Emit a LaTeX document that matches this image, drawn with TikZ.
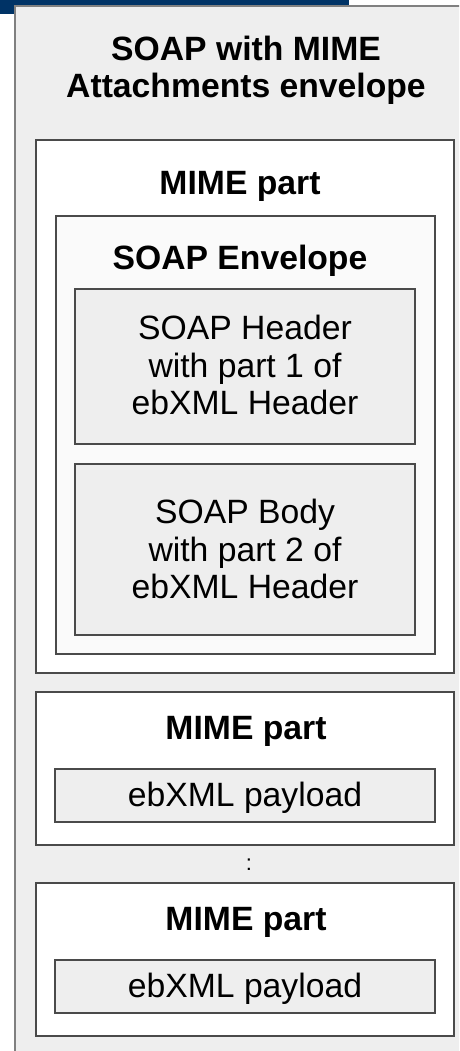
\documentclass[tikz,border=0pt]{standalone}
\usepackage{fontspec}
\setmainfont{Liberation Sans}
\definecolor{barblue}{HTML}{003366}
\definecolor{outerfill}{HTML}{EEEEEE}
\definecolor{envfill}{HTML}{FAFAFA}
\definecolor{partfill}{HTML}{EEEEEE}
\definecolor{edge}{HTML}{4A4A4A}
\begin{document}
\begin{tikzpicture}[x=1pt,y=-1pt,
  box/.style={draw=edge, line width=1.1pt, inner sep=0pt, outer sep=0pt,
              anchor=north west, rectangle},
  % anchor=base puts the baseline of the last line on the given point
  lbl/.style={font=\fontsize{33.7}{37.4}\selectfont, align=center, inner sep=0pt, anchor=base},
  ttl/.style={lbl, font=\fontsize{33.7}{37.4}\selectfont\bfseries}]
\useasboundingbox (0,0) rectangle (459,1051);
\clip (0,0) rectangle (459,1051);

% header bar and outer envelope
\fill[barblue] (0,0) rectangle (349,14);
\node[box, draw=gray, line width=1.3pt, fill=outerfill,
      minimum width=480pt, minimum height=1070pt] (outer) at (15,6) {};
\node[ttl] (outerT) at (246,97.5) {SOAP with MIME\\Attachments envelope};

% first MIME part with SOAP envelope
\node[box, fill=white, minimum width=418pt, minimum height=533pt] (mime1) at (36,140) {};
\node[ttl] (mime1T) at (240,194) {MIME part};
\node[box, fill=envfill, minimum width=379pt, minimum height=438pt] (soapenv) at (56,216) {};
\node[ttl] (soapenvT) at (240,269) {SOAP Envelope};
\node[box, fill=partfill, minimum width=340pt, minimum height=155pt] (hdr) at (75,289) {};
\node[lbl] (hdrT) at (245,414.5) {SOAP Header\\with part 1 of\\ebXML Header};
\node[box, fill=partfill, minimum width=340pt, minimum height=171pt] (body) at (75,464) {};
\node[lbl] (bodyT) at (245,598.5) {SOAP Body\\with part 2 of\\ebXML Header};

% second MIME part
\node[box, fill=white, minimum width=418pt, minimum height=153pt] (mime2) at (36,692) {};
\node[ttl] (mime2T) at (246,739.5) {MIME part};
\node[box, fill=partfill, minimum width=380pt, minimum height=53pt] (pay2) at (55,769) {};
\node[lbl] (pay2T) at (245,806) {ebXML payload};

\node[inner sep=0pt, font=\fontsize{22}{22}\selectfont] (dots) at (249,864.5) {:};

% last MIME part
\node[box, fill=white, minimum width=418pt, minimum height=153pt] (mime3) at (36,883) {};
\node[ttl] (mime3T) at (246,930.5) {MIME part};
\node[box, fill=partfill, minimum width=380pt, minimum height=53pt] (pay3) at (55,960) {};
\node[lbl] (pay3T) at (245,997) {ebXML payload};
\end{tikzpicture}
\end{document}
